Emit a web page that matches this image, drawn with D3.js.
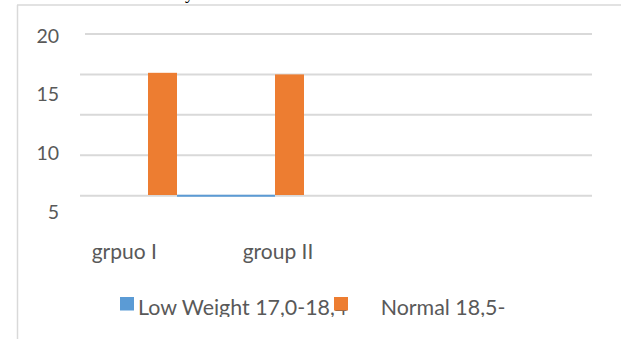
<!DOCTYPE html>
<html>
<head>
<meta charset="utf-8">
<script src="https://cdn.jsdelivr.net/npm/d3@7"></script>
<style>
  body { margin: 0; background: #fff; }
  svg { display: block; font-family: Lato, "Open Sans", sans-serif; }
</style>
</head>
<body>
<svg id="chart" width="621" height="339"></svg>
<script>

// data
const categories = [ "grpuo I", "group II" ];
const lowWeight = [ 0, 0 ];
const normal = [ 15.2, 15.0 ];
const seriesNames = [ "Low Weight 17,0-18,4", "Normal 18,5-" ];
const seriesColors = [ "#5B9BD5", "#ED7D31" ];
const gridTicks = [ 0, 5, 10, 15, 20 ];
const tickLabels = [ 20, 15, 10, 5 ];

const svg = d3.select( "#chart" );
const textColor = "#595959";
const gridColor = "#D9D9D9";

// scales
const y = d3.scaleLinear()
  .domain( [ 0, 20 ] )
  .range( [ 195.7, 34 ] );

// tick labels sit on their own spacing (they do not line up with the grid)
const yLabel = d3.scaleLinear()
  .domain( [ 5, 20 ] )
  .range( [ 219, 42.7 ] );

const x = d3.scaleBand()
  .domain( categories )
  .range( [ 148, 402 ] );

const xLabel = d3.scaleBand()
  .domain( categories )
  .range( [ 91.7, 393.7 ] );

const barWidth = 29;

// frame
svg.append( "line" )
  .attr( "x1", 17 ).attr( "x2", 621 )
  .attr( "y1", 5 ).attr( "y2", 5 )
  .attr( "stroke", gridColor ).attr( "stroke-width", 1.5 );

svg.append( "line" )
  .attr( "x1", 17.5 ).attr( "x2", 17.5 )
  .attr( "y1", 5 ).attr( "y2", 339 )
  .attr( "stroke", gridColor ).attr( "stroke-width", 1.5 );

// cut-off caption glyph above the frame
svg.append( "text" )
  .attr( "x", 185 )
  .attr( "y", -1 )
  .attr( "fill", "#000" )
  .style( "font-family", "Liberation Serif" )
  .style( "font-size", "18px" )
  .text( "y" );

// gridlines
svg.selectAll( "line.grid" )
  .data( gridTicks )
  .enter().append( "line" )
    .attr( "class", "grid" )
    .attr( "x1", d => d === 20 ? 85 : 80 )
    .attr( "x2", 592 )
    .attr( "y1", d => y( d ) )
    .attr( "y2", d => y( d ) )
    .attr( "stroke", gridColor )
    .attr( "stroke-width", 2 );

// y labels
svg.selectAll( "text.ylab" )
  .data( tickLabels )
  .enter().append( "text" )
    .attr( "class", "ylab" )
    .attr( "x", 59 )
    .attr( "y", d => yLabel( d ) )
    .attr( "text-anchor", "end" )
    .attr( "fill", textColor )
    .style( "font-size", "19.5px" )
    .text( d => d );

// low weight series: flat line at zero between the bars
svg.append( "path" )
  .datum( lowWeight )
  .attr( "fill", "none" )
  .attr( "stroke", seriesColors[ 0 ] )
  .attr( "stroke-width", 2 )
  .attr( "d", d3.line()
    .x( ( d, i ) => i === 0 ? x( categories[ i ] ) + barWidth : x( categories[ i ] ) )
    .y( d => y( d ) ) );

// normal series bars
svg.selectAll( "rect.bar" )
  .data( normal )
  .enter().append( "rect" )
    .attr( "class", "bar" )
    .attr( "x", ( d, i ) => x( categories[ i ] ) )
    .attr( "y", d => y( d ) )
    .attr( "width", barWidth )
    .attr( "height", d => y( 0 ) - y( d ) - 0.7 )
    .attr( "fill", seriesColors[ 1 ] );

// category labels
svg.selectAll( "text.xlab" )
  .data( categories )
  .enter().append( "text" )
    .attr( "class", "xlab" )
    .attr( "x", d => xLabel( d ) )
    .attr( "y", 259 )
    .attr( "fill", textColor )
    .style( "font-size", "21px" )
    .text( d => d );

// legend (bottom of text is clipped)
svg.append( "clipPath" )
  .attr( "id", "legClip" )
  .append( "rect" )
    .attr( "x", 0 ).attr( "y", 280 )
    .attr( "width", 621 ).attr( "height", 37 );

const legendX = [ 138, 380.7 ];
const swatchX = [ 120, 334 ];

svg.append( "g" )
  .attr( "clip-path", "url(#legClip)" )
  .selectAll( "text" )
  .data( seriesNames )
  .enter().append( "text" )
    .attr( "x", ( d, i ) => legendX[ i ] )
    .attr( "y", 315 )
    .attr( "fill", textColor )
    .style( "font-size", "21.4px" )
    .text( d => d );

svg.selectAll( "rect.swatch" )
  .data( seriesColors )
  .enter().append( "rect" )
    .attr( "class", "swatch" )
    .attr( "x", ( d, i ) => swatchX[ i ] )
    .attr( "y", 297 )
    .attr( "width", 14 )
    .attr( "height", 13.5 )
    .attr( "fill", d => d );

</script>
</body>
</html>
